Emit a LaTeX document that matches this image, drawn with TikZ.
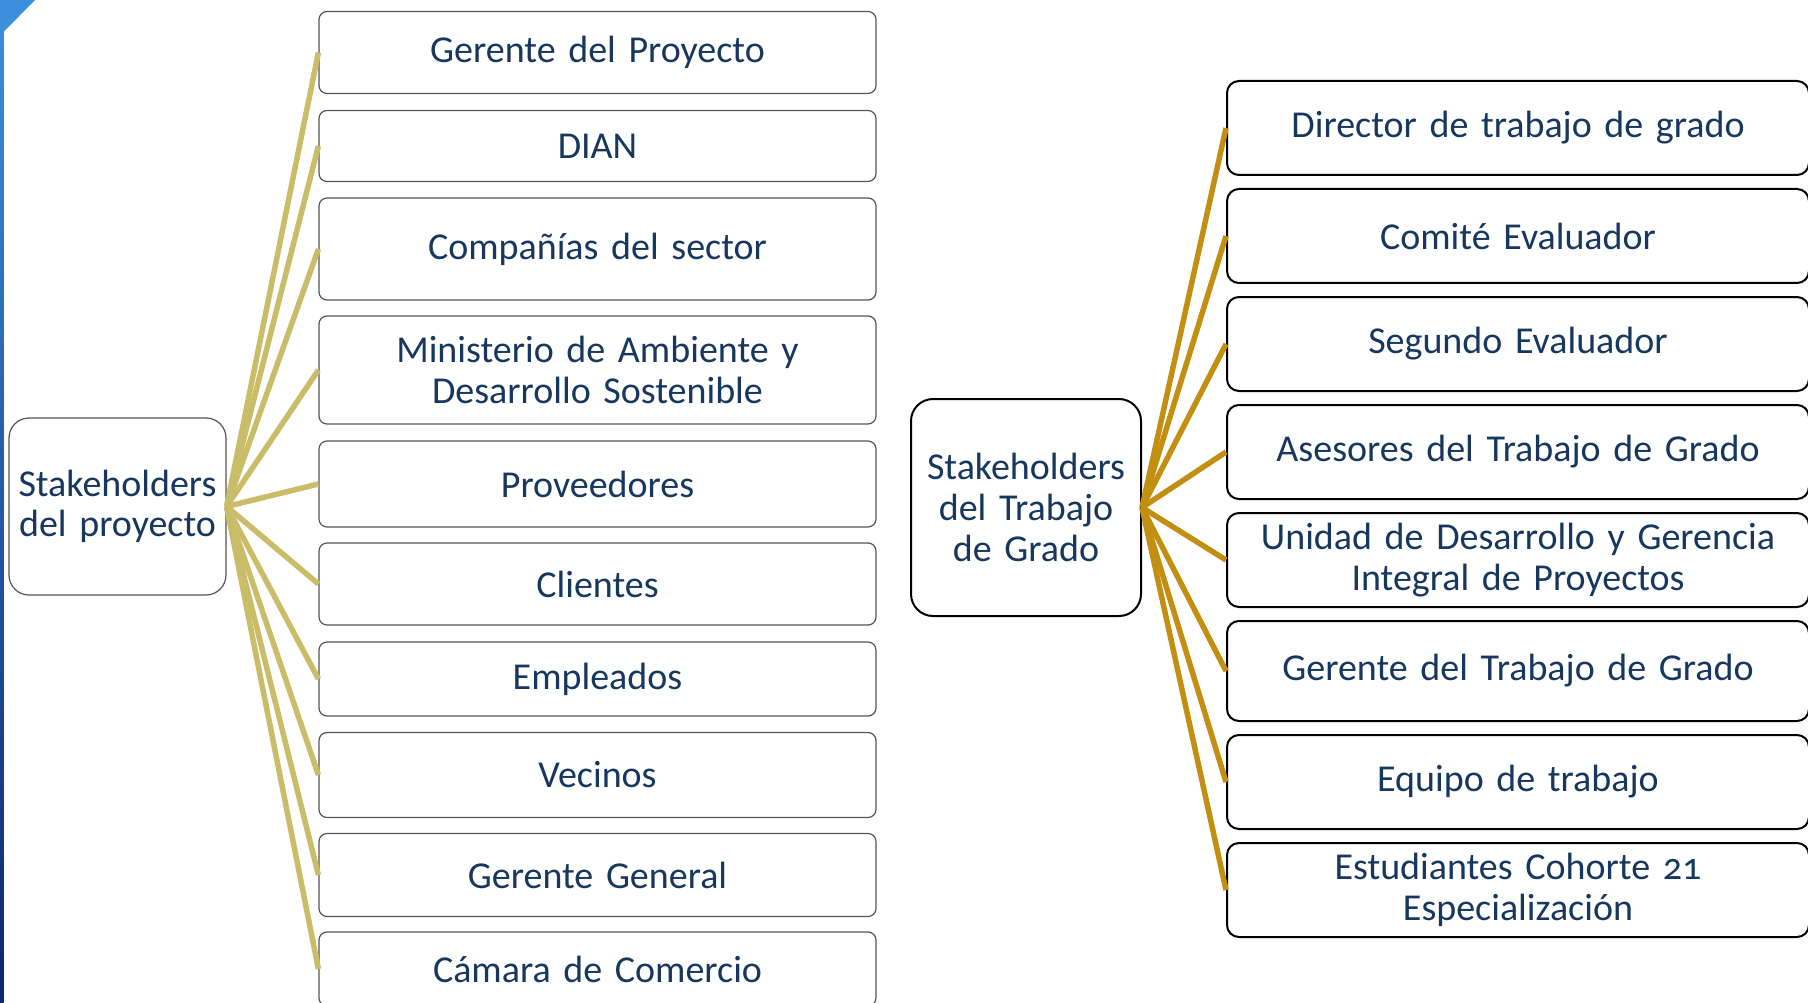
\documentclass[tikz,border=0pt]{standalone}
\usepackage{fontspec}
\setmainfont{Carlito}[Numbers=OldStyle]

\definecolor{textblue}{HTML}{17375E}
\definecolor{boxgray}{HTML}{555555}
\definecolor{linkkhaki}{HTML}{C9BD6A}
\definecolor{linkgold}{HTML}{C38F12}
\definecolor{barlight}{HTML}{3C8FDD}
\definecolor{bardark}{HTML}{0E2470}

% tighter word spacing, as in the slide
\newcommand{\boxfont}[1]{\fontsize{38}{#1}\selectfont\fontdimen2\font=0.12em\relax}

\tikzset{
  hubP/.style={draw=boxgray, line width=1.2pt, rounded corners=20pt, fill=white,
    minimum width=217pt, minimum height=177pt, text width=210pt, align=center,
    inner sep=0pt, text=textblue, font=\boxfont{40}},
  hubT/.style={draw=black, line width=2pt, rounded corners=22pt, fill=white,
    minimum width=230pt, minimum height=217pt, text width=220pt, align=center,
    inner sep=0pt, text=textblue, font=\boxfont{41}},
  pbox/.style={draw=boxgray, line width=1.2pt, rounded corners=8pt, fill=white,
    minimum width=557pt, text width=540pt, align=center, inner sep=0pt,
    text=textblue, font=\boxfont{41.5}},
  tbox/.style={draw=black, line width=2pt, rounded corners=12pt, fill=white,
    minimum width=582pt, text width=560pt, align=center, inner sep=0pt,
    text=textblue, font=\boxfont{41}},
  linkP/.style={draw=linkkhaki, line width=5.5pt},
  linkT/.style={draw=linkgold, line width=5.5pt}
}

\begin{document}
\begin{tikzpicture}[x=1pt, y=-1pt]

% Page frame
\useasboundingbox (0,0) rectangle (1808,1003);
\clip (0,0) rectangle (1808,1003);

% Blue edge at the left and its corner
\shade[top color=barlight, bottom color=bardark] (0,0) rectangle (3.5,1003);
\fill[barlight] (0,0) -- (35,0) -- (3.5,32) -- (0,32) -- cycle;

% Project stakeholders
\node[hubP] (hubP) at (117.5,506.5) {Stakeholders\\del proyecto};

\node[pbox, minimum height=82pt] (p1) at (597.5,52.5) {Gerente del Proyecto};
\node[pbox, minimum height=71pt] (p2) at (597.5,146) {DIAN};
\node[pbox, minimum height=102pt] (p3) at (597.5,249) {Compañías del sector};
\node[pbox, minimum height=108pt] (p4) at (597.5,370) {Ministerio de Ambiente y\\Desarrollo Sostenible};
\node[pbox, minimum height=86pt] (p5) at (597.5,484) {Proveedores};
\node[pbox, minimum height=82pt] (p6) at (597.5,584) {Clientes};
\node[pbox, minimum height=74pt] (p7) at (597.5,679) {Empleados};
\node[pbox, minimum height=85pt] (p8) at (597.5,775) {Vecinos};
\node[pbox, minimum height=83pt] (p9) at (597.5,875) {Gerente General};
\node[pbox, minimum height=74pt] (p10) at (597.5,969) {Cámara de Comercio};

% Links of the project stakeholders
\draw[linkP] (hubP.east) -- (p1.west);
\draw[linkP] (hubP.east) -- (p2.west);
\draw[linkP] (hubP.east) -- (p3.west);
\draw[linkP] (hubP.east) -- (p4.west);
\draw[linkP] (hubP.east) -- (p5.west);
\draw[linkP] (hubP.east) -- (p6.west);
\draw[linkP] (hubP.east) -- (p7.west);
\draw[linkP] (hubP.east) -- (p8.west);
\draw[linkP] (hubP.east) -- (p9.west);
\draw[linkP] (hubP.east) -- (p10.west);

% Stakeholders of the degree work
\node[hubT] (hubT) at (1026,507.5) {Stakeholders\\del Trabajo\\de Grado};

\node[tbox, minimum height=94pt] (t1) at (1518,128) {Director de trabajo de grado};
\node[tbox, minimum height=94pt] (t2) at (1518,236) {Comité Evaluador};
\node[tbox, minimum height=94pt] (t3) at (1518,344) {Segundo Evaluador};
\node[tbox, minimum height=94pt] (t4) at (1518,452) {Asesores del Trabajo de Grado};
\node[tbox, minimum height=94pt] (t5) at (1518,560) {Unidad de Desarrollo y Gerencia\\Integral de Proyectos};
\node[tbox, minimum height=100pt] (t6) at (1518,671) {Gerente del Trabajo de Grado};
\node[tbox, minimum height=94pt] (t7) at (1518,782) {Equipo de trabajo};
\node[tbox, minimum height=94pt] (t8) at (1518,890) {Estudiantes Cohorte 21\\Especialización};

% Links of the degree work stakeholders
\draw[linkT] (hubT.east) -- (t1.west);
\draw[linkT] (hubT.east) -- (t2.west);
\draw[linkT] (hubT.east) -- (t3.west);
\draw[linkT] (hubT.east) -- (t4.west);
\draw[linkT] (hubT.east) -- (t5.west);
\draw[linkT] (hubT.east) -- (t6.west);
\draw[linkT] (hubT.east) -- (t7.west);
\draw[linkT] (hubT.east) -- (t8.west);

\end{tikzpicture}
\end{document}
